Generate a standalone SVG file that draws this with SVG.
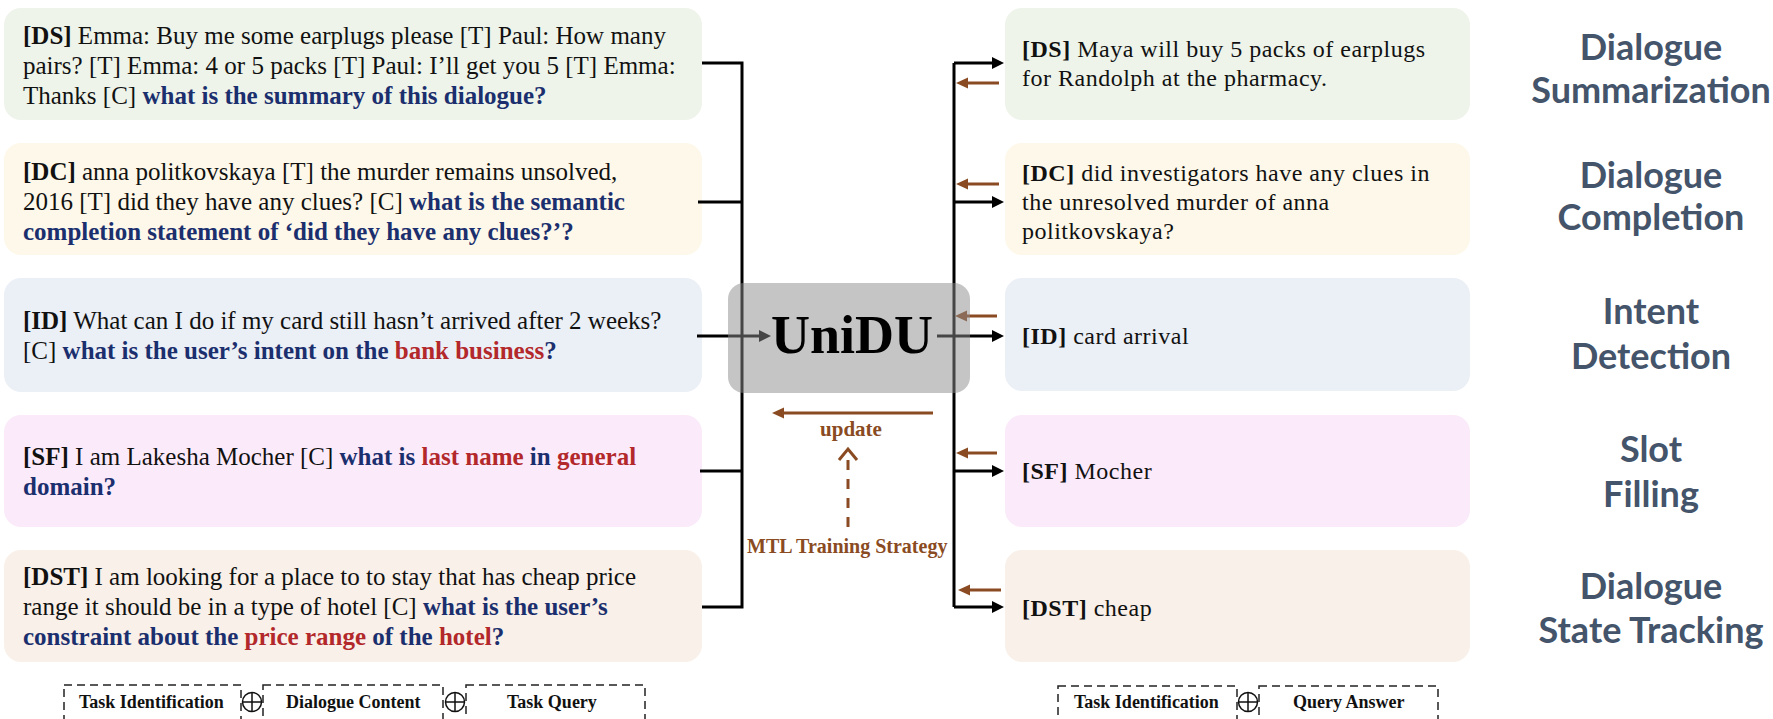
<svg xmlns="http://www.w3.org/2000/svg" width="1773" height="719" viewBox="0 0 1773 719">
<style>
.box{stroke:none}
.t{font-family:"Liberation Serif","Times New Roman",serif;font-size:25px;fill:#111}
.r{font-family:"Liberation Serif","Times New Roman",serif;font-size:24px;fill:#111;letter-spacing:0.5px}
.b{font-weight:bold}
.q{font-weight:bold;fill:#1b2f6e}
.k{font-weight:bold;fill:#b3282a}
.lbl{font-family:Lato,"Open Sans",sans-serif;font-weight:bold;font-size:36px;fill:#44546a;text-anchor:middle}
.ln{stroke:#000;stroke-width:3;fill:none}
.br{stroke:#8a4b22;stroke-width:3;fill:none}
.bt{font-family:"Liberation Serif","Times New Roman",serif;font-weight:bold;fill:#8a4b22}
.lg{font-family:"Liberation Serif","Times New Roman",serif;font-weight:bold;font-size:18px;fill:#111}
.dash{fill:none;stroke:#222;stroke-width:1.5;stroke-dasharray:8 5}
</style>
<defs>
<marker id="ah" markerWidth="12" markerHeight="12" refX="3" refY="6" orient="auto" markerUnits="userSpaceOnUse"><path d="M0,0 L12,6 L0,12 z" fill="#000"/></marker>
<marker id="ahb" markerWidth="12" markerHeight="12" refX="3" refY="6" orient="auto" markerUnits="userSpaceOnUse"><path d="M0,0.5 L12,6 L0,11.5 z" fill="#8a4b22"/></marker>
</defs>

<g id="in-ds">
<rect class="box" x="4" y="8" width="698" height="112" rx="17" fill="#eef4ea"/>
<text class="t" x="23" y="44"><tspan class="b">[DS]</tspan> Emma: Buy me some earplugs please [T] Paul: How many</text>
<text class="t" x="23" y="74">pairs? [T] Emma: 4 or 5 packs [T] Paul: I’ll get you 5 [T] Emma:</text>
<text class="t" x="23" y="104">Thanks [C] <tspan class="q">what is the summary of this dialogue?</tspan></text>
</g>
<g id="in-dc">
<rect class="box" x="4" y="143" width="698" height="112" rx="17" fill="#fdf8e9"/>
<text class="t" x="23" y="180"><tspan class="b">[DC]</tspan> anna politkovskaya [T] the murder remains unsolved,</text>
<text class="t" x="23" y="210">2016 [T] did they have any clues? [C] <tspan class="q">what is the semantic</tspan></text>
<text class="t" x="23" y="240"><tspan class="q">completion statement of ‘did they have any clues?’?</tspan></text>
</g>
<g id="in-id">
<rect class="box" x="4" y="278" width="698" height="114" rx="17" fill="#ebeff6"/>
<text class="t" x="23" y="329"><tspan class="b">[ID]</tspan> What can I do if my card still hasn’t arrived after 2 weeks?</text>
<text class="t" x="23" y="359">[C] <tspan class="q">what is the user’s intent on the </tspan><tspan class="k">bank business</tspan><tspan class="q">?</tspan></text>
</g>
<g id="in-sf">
<rect class="box" x="4" y="415" width="698" height="112" rx="17" fill="#fbeafa"/>
<text class="t" x="23" y="465"><tspan class="b">[SF]</tspan> I am Lakesha Mocher [C] <tspan class="q">what is </tspan><tspan class="k">last name</tspan><tspan class="q"> in </tspan><tspan class="k">general</tspan></text>
<text class="t" x="23" y="495"><tspan class="q">domain?</tspan></text>
</g>
<g id="in-dst">
<rect class="box" x="4" y="550" width="698" height="112" rx="17" fill="#f8f0e9"/>
<text class="t" x="23" y="585"><tspan class="b">[DST]</tspan> I am looking for a place to to stay that has cheap price</text>
<text class="t" x="23" y="615">range it should be in a type of hotel [C] <tspan class="q">what is the user’s</tspan></text>
<text class="t" x="23" y="645"><tspan class="q">constraint about the </tspan><tspan class="k">price range</tspan><tspan class="q"> of the </tspan><tspan class="k">hotel</tspan><tspan class="q">?</tspan></text>
</g>

<g id="out-ds">
<rect class="box" x="1005" y="8" width="465" height="112" rx="17" fill="#eef4ea"/>
<text class="r" x="1022" y="57"><tspan class="b">[DS]</tspan> Maya will buy 5 packs of earplugs</text>
<text class="r" x="1022" y="86">for Randolph at the pharmacy.</text>
</g>
<g id="out-dc">
<rect class="box" x="1005" y="143" width="465" height="112" rx="17" fill="#fdf8e9"/>
<text class="r" x="1022" y="181"><tspan class="b">[DC]</tspan> did investigators have any clues in</text>
<text class="r" x="1022" y="210">the unresolved murder of anna</text>
<text class="r" x="1022" y="239">politkovskaya?</text>
</g>
<g id="out-id">
<rect class="box" x="1005" y="278" width="465" height="113" rx="17" fill="#ebeff6"/>
<text class="r" x="1022" y="344"><tspan class="b">[ID]</tspan> card arrival</text>
</g>
<g id="out-sf">
<rect class="box" x="1005" y="415" width="465" height="112" rx="17" fill="#fbeafa"/>
<text class="r" x="1022" y="479"><tspan class="b">[SF]</tspan> Mocher</text>
</g>
<g id="out-dst">
<rect class="box" x="1005" y="550" width="465" height="112" rx="17" fill="#f8f0e9"/>
<text class="r" x="1022" y="616"><tspan class="b">[DST]</tspan> cheap</text>
</g>

<g id="connectors">
<path class="ln" d="M702,63 H742 V607 H702"/>
<path class="ln" d="M698,202 H742 M700,471 H742"/>
<path class="ln" d="M697,336 H762" marker-end="url(#ah)"/>
<path class="ln" d="M954,63 V607"/>
<path class="ln" d="M954,63 H995" marker-end="url(#ah)"/>
<path class="ln" d="M954,202 H995" marker-end="url(#ah)"/>
<path class="ln" d="M937,336 H995" marker-end="url(#ah)"/>
<path class="ln" d="M954,471 H995" marker-end="url(#ah)"/>
<path class="ln" d="M954,607 H995" marker-end="url(#ah)"/>
<path class="br" d="M999,83 H965" marker-end="url(#ahb)"/>
<path class="br" d="M999,184 H965" marker-end="url(#ahb)"/>
<path class="br" d="M997,316 H964" marker-end="url(#ahb)"/>
<path class="br" d="M997,453 H965" marker-end="url(#ahb)"/>
<path class="br" d="M1001,590 H967" marker-end="url(#ahb)"/>
<path class="br" d="M933,413 H781" marker-end="url(#ahb)"/>
<path class="br" d="M848,527 V452" stroke-dasharray="10 9"/>
<path class="br" d="M839,460 L848,449 L857,460"/>
</g>

<g id="unidu">
<rect x="728" y="283" width="242" height="110" rx="16" fill="#8c8c8c" fill-opacity="0.5"/>
<text x="852" y="353" text-anchor="middle" font-family="Liberation Serif, Times New Roman, serif" font-weight="bold" font-size="54" fill="#000">UniDU</text>
</g>

<g id="mtl">
<text class="bt" x="851" y="436" text-anchor="middle" font-size="21">update</text>
<text class="bt" x="747" y="553" font-size="20">MTL  Training Strategy</text>
</g>

<g id="labels">
<text class="lbl" x="1651" y="60">Dialogue</text>
<text class="lbl" x="1651" y="103">Summarization</text>
<text class="lbl" x="1651" y="188">Dialogue</text>
<text class="lbl" x="1651" y="230">Completion</text>
<text class="lbl" x="1651" y="324">Intent</text>
<text class="lbl" x="1651" y="369">Detection</text>
<text class="lbl" x="1651" y="462">Slot</text>
<text class="lbl" x="1651" y="507">Filling</text>
<text class="lbl" x="1651" y="599">Dialogue</text>
<text class="lbl" x="1651" y="643">State Tracking</text>
</g>

<g id="legend-in">
<rect class="dash" x="64" y="685" width="177" height="50"/>
<rect class="dash" x="263" y="685" width="180" height="50"/>
<rect class="dash" x="466" y="685" width="179" height="50"/>
<text class="lg" x="79" y="708">Task Identification</text>
<text class="lg" x="286" y="708">Dialogue Content</text>
<text class="lg" x="507" y="708">Task Query</text>
<g stroke="#111" stroke-width="1.5" fill="none">
<circle cx="252" cy="702" r="9.5"/><path d="M242.5,702 H261.5 M252,692.5 V711.5"/>
<circle cx="455" cy="702" r="9.5"/><path d="M445.5,702 H464.5 M455,692.5 V711.5"/>
</g>
</g>
<g id="legend-out">
<rect class="dash" x="1058" y="686" width="179" height="50"/>
<rect class="dash" x="1259" y="686" width="179" height="50"/>
<text class="lg" x="1074" y="708">Task Identification</text>
<text class="lg" x="1293" y="708">Query Answer</text>
<g stroke="#111" stroke-width="1.5" fill="none">
<circle cx="1248" cy="702" r="9.5"/><path d="M1238.5,702 H1257.5 M1248,692.5 V711.5"/>
</g>
</g>
</svg>
